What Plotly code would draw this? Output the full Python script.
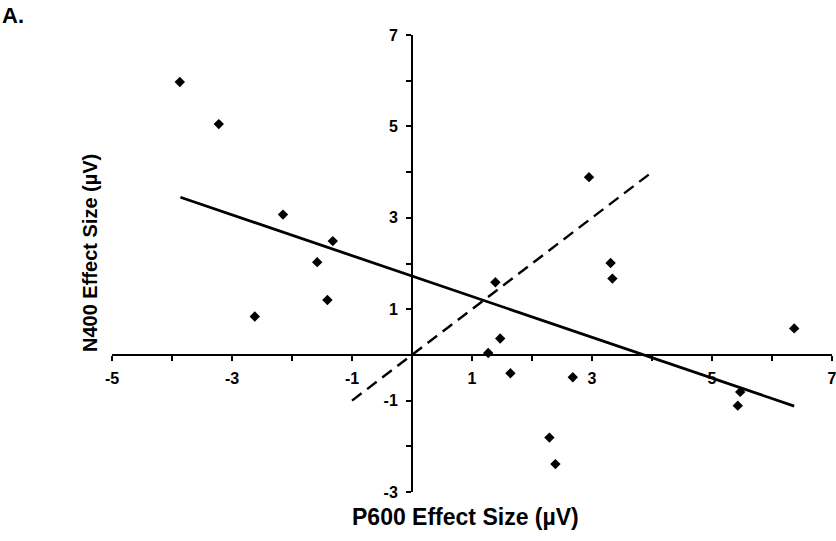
import plotly.graph_objects as go

# Data
p600 = [-3.87, -3.22, -2.15, -1.32, -1.58, -1.41, -2.62,
        2.95, 3.31, 3.34, 1.39, 1.47, 1.27, 1.64, 2.68, 2.29, 2.39,
        6.37, 5.47, 5.43]
n400 = [5.97, 5.05, 3.07, 2.49, 2.03, 1.20, 0.84,
        3.89, 2.01, 1.67, 1.59, 0.36, 0.04, -0.40, -0.49, -1.81, -2.39,
        0.58, -0.81, -1.11]

fit_x = [-3.86, 6.37]
fit_y = [3.45, -1.12]

diag_x = [-1, 4]
diag_y = [-1, 4]

x_ticks = list(range(-5, 8))
x_labels = [str(v) if v % 2 != 0 else "" for v in x_ticks]
y_ticks = list(range(-3, 8))
y_labels = [str(v) if v % 2 != 0 else "" for v in y_ticks]

FONT = "Liberation Sans, Arial, sans-serif"
XR = [-5, 7]
YR = [-3, 7]

fig = go.Figure()
fig.add_trace(go.Scatter(x=p600, y=n400, mode="markers",
                         marker=dict(symbol="diamond", size=8, color="black"),
                         showlegend=False, cliponaxis=False))
fig.add_trace(go.Scatter(x=fit_x, y=fit_y, mode="lines",
                         line=dict(color="black", width=2.8),
                         showlegend=False))
fig.add_trace(go.Scatter(x=diag_x, y=diag_y, mode="lines",
                         line=dict(color="black", width=2.4, dash="12px,7px"),
                         showlegend=False))

xpos = (0 - YR[0]) / (YR[1] - YR[0])
ypos = (0 - XR[0]) / (XR[1] - XR[0])

common_tick = dict(ticklen=5, tickwidth=1.5, tickcolor="black")

fig.update_layout(
    width=836, height=541,
    margin=dict(l=112, r=4, t=35, b=49, autoexpand=False),
    paper_bgcolor="white", plot_bgcolor="white",
    font=dict(family=FONT, color="black"),
    xaxis=dict(range=XR, anchor="free", position=xpos, automargin=False,
               showgrid=False, zeroline=False,
               showline=True, linecolor="black", linewidth=2,
               tickmode="array", tickvals=x_ticks, ticktext=x_labels,
               ticks="outside", ticklabelstandoff=4, ticklabeloverflow="allow",
               tickfont=dict(size=16, family=FONT, weight="bold"),
               **common_tick),
    yaxis=dict(range=YR, anchor="free", position=ypos, automargin=False,
               showgrid=False, zeroline=False,
               showline=True, linecolor="black", linewidth=2,
               tickmode="array", tickvals=y_ticks, ticktext=y_labels,
               ticks="outside", ticklabelstandoff=5, ticklabeloverflow="allow",
               tickfont=dict(size=16, family=FONT, weight="bold"),
               **common_tick),
    xaxis2=dict(range=XR, overlaying="x", anchor="free", position=xpos,
                automargin=False,
                showgrid=False, zeroline=False, showline=False,
                tickmode="array", tickvals=x_ticks, showticklabels=False,
                ticks="inside", **common_tick),
    yaxis2=dict(range=YR, overlaying="y", anchor="free", position=ypos,
                automargin=False,
                showgrid=False, zeroline=False, showline=False,
                tickmode="array", tickvals=y_ticks, showticklabels=False,
                ticks="inside", **common_tick),
    annotations=[
        dict(text="<b>P600 Effect Size (µV)</b>", xref="paper", yref="paper",
             x=(465 - 112) / 720, y=-(517 - 492) / 457, showarrow=False,
             xanchor="center", yanchor="middle",
             font=dict(size=23, family=FONT)),
        dict(text="<b>N400 Effect Size (µV)</b>", xref="paper", yref="paper",
             x=-(112 - 90) / 720, y=(492 - 253) / 457, showarrow=False,
             textangle=-90, xanchor="center", yanchor="middle",
             font=dict(size=20, family=FONT)),
        dict(text="<b>A.</b>", xref="paper", yref="paper",
             x=-(112 - 0) / 720, y=1 + (35 - 16) / 457, showarrow=False,
             xanchor="left", yanchor="middle",
             font=dict(size=22, family=FONT)),
    ],
)

fig.write_html("out.html",
               config={"displayModeBar": False},
               post_script="document.body.style.margin='0px';"
                           "document.body.style.overflow='hidden';")
